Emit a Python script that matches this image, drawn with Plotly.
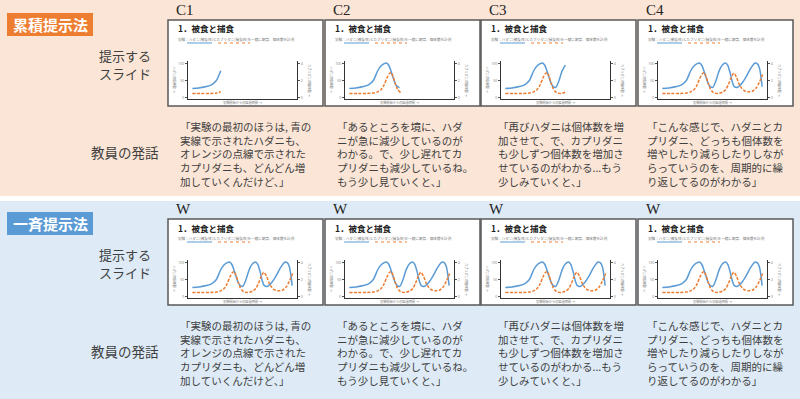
import plotly.graph_objects as go

# ---------------- data ----------------
# prey (ハダニ, left axis) – time in % of experiment, value in individuals
blue_x = [4, 10, 17, 22, 26, 30, 33, 36, 38, 40, 42, 44, 47, 50, 53, 56, 59, 62, 64, 66, 68, 70, 73, 77, 81, 85, 89, 91, 93, 94.5, 95.5]
blue_y = [26, 28, 32, 38, 50, 79, 93, 100, 102, 96, 80, 60, 35, 29, 48, 78, 96, 102, 95, 75, 48, 32, 30, 42, 62, 86, 102, 100, 88, 60, 32]
# predator (カブリダニ, right axis)
orange_x = [4, 12, 20, 26, 30, 33, 36, 38.5, 41, 42.5, 44, 46, 48, 51, 55, 59, 62, 64.5, 67, 69.5, 72, 74, 76, 79, 83, 87, 90, 93, 96]
orange_y = [0.44, 0.44, 0.45, 0.5, 0.65, 0.9, 1.5, 2.3, 2.85, 2.9, 2.5, 1.7, 1.0, 0.55, 0.45, 0.6, 0.9, 1.5, 2.3, 2.85, 2.4, 1.7, 1.2, 0.8, 0.65, 0.75, 1.1, 1.8, 2.7]

top_labels = ["C1", "C2", "C3", "C4"]
bottom_labels = ["W", "W", "W", "W"]
top_cutoffs = [30, 51, 60, 100]
bottom_cutoffs = [100, 100, 100, 100]
left_ticks = [0, 50, 100]
right_ticks = [0, 2, 4]

method_names = ["累積提示法", "一斉提示法"]
row_labels_slide = ["提示する", "スライド"]
row_label_speech = "教員の発話"
slide_title = "1．被食と捕食"
slide_sub = "実験：ハダニ(被食性)とカブリダニ(捕食性)を一緒に飼育、個体数を計測"
slide_xtitle = "実験開始からの経過時間 →"
slide_ytitle_l = "ハダニの個体数 →"
slide_ytitle_r = "カブリダニの個体数 →"

speech = [
    ["「実験の最初のほうは, 青の", "実線で示されたハダニも、", "オレンジの点線で示された", "カプリダニも、どんどん増", "加していくんだけど、」"],
    ["「あるところを境に、ハダ", "ニが急に減少しているのが", "わかる。で、少し遅れてカ", "プリダニも減少しているね。", "もう少し見ていくと、」"],
    ["「再びハダニは個体数を増", "加させて、で、カプリダニ", "も少しずつ個体数を増加さ", "せているのがわかる...もう", "少しみていくと、」"],
    ["「こんな感じで、ハダニとカ", "プリダニ、どっちも個体数を", "増やしたり減らしたりしなが", "らっていうのを、周期的に繰", "り返してるのがわかる」"],
]

# ---------------- layout helpers ----------------
W, H = 800, 399
def px(x): return x / W
def py(y): return 1 - y / H

JP = "Noto Sans CJK JP"
TXT = "#404040"
BLUE = "#5B9BD5"
ORANGE = "#ED7D31"

slide_left = [168, 325, 481, 638]
text_left = [179, 336, 497, 646]
SW, SH = 155, 86

fig = go.Figure()
shapes, annotations = [], []

def ann(x, y, text, size, color=TXT, family=JP, xanchor="left", yanchor="middle", angle=0, align="left"):
    annotations.append(dict(x=px(x), y=py(y), xref="paper", yref="paper", text=text,
                            showarrow=False, xanchor=xanchor, yanchor=yanchor, textangle=angle, align=align,
                            font=dict(size=size, color=color, family=family), borderpad=0))

# panels
shapes.append(dict(type="rect", xref="paper", yref="paper", x0=0, x1=1, y0=py(196), y1=py(0),
                   fillcolor="#FBE5D6", line_width=0, layer="below"))
shapes.append(dict(type="rect", xref="paper", yref="paper", x0=0, x1=1, y0=py(399), y1=py(201),
                   fillcolor="#DEEBF7", line_width=0, layer="below"))

rows = [
    dict(dy=0, name=method_names[0], color=ORANGE, labels=top_labels, cut=top_cutoffs),
    dict(dy=199, name=method_names[1], color=BLUE, labels=bottom_labels, cut=bottom_cutoffs),
]

layout_axes = {}
n = 0
for r in rows:
    dy = r["dy"]
    # method box
    shapes.append(dict(type="rect", xref="paper", yref="paper", x0=px(7), x1=px(93),
                       y0=py(36 + dy), y1=py(13 + dy), fillcolor=r["color"], line_width=0, layer="below"))
    ann(50, 24.5 + dy, "<b>" + r["name"] + "</b>", 15, color="white", xanchor="center")
    # row labels
    ann(125, 55.5 + dy, row_labels_slide[0], 13, xanchor="center")
    ann(125, 73.5 + dy, row_labels_slide[1], 13, xanchor="center")
    ann(125, 152 + dy, row_label_speech, 13.5, xanchor="center")

    for i in range(4):
        n += 1
        L = slide_left[i]
        T = 20 + dy
        # column label
        ann(L + 7, 10 + dy, r["labels"][i], 15, color="#222", family="Liberation Serif")
        # slide frame
        shapes.append(dict(type="rect", xref="paper", yref="paper", x0=px(L), x1=px(L + SW),
                           y0=py(T + SH), y1=py(T), fillcolor="white",
                           line=dict(color="#595959", width=1.5), layer="below"))
        ann(L + 9, T + 8.5, "<b>" + slide_title + "</b>", 8.5, color="#222")
        ann(L + 9, T + 19.5, slide_sub, 3.6, color="#777")
        shapes.append(dict(type="line", xref="paper", yref="paper", x0=px(L + 19), x1=px(L + 44),
                           y0=py(T + 23), y1=py(T + 23), line=dict(color=BLUE, width=1)))
        shapes.append(dict(type="line", xref="paper", yref="paper", x0=px(L + 50), x1=px(L + 82),
                           y0=py(T + 23), y1=py(T + 23), line=dict(color=ORANGE, width=1, dash="dot")))
        ann(L + 75, T + 82.5, slide_xtitle, 3.2, color="#777", xanchor="center")
        ann(L + 6.5, T + 60, slide_ytitle_l, 3.2, color="#777", xanchor="center", angle=90)
        ann(L + 142, T + 60, slide_ytitle_r, 3.2, color="#777", xanchor="center", angle=90)

        # speech text
        ann(text_left[i], 154 + dy, "<br>".join(speech[i]), 10.5)

        # axes
        xd = [px(L + 20), px(L + 129)]
        yd = [py(T + 79), py(T + 41)]
        xk = "xaxis" if n == 1 else f"xaxis{n}"
        yl = 2 * n - 1
        yr = 2 * n
        xref = "x" if n == 1 else f"x{n}"
        ylref = "y" if yl == 1 else f"y{yl}"
        yrref = f"y{yr}"
        layout_axes[xk] = dict(domain=xd, anchor=ylref, range=[0, 100], showgrid=False, zeroline=False,
                               showline=True, linecolor="#333", linewidth=1, showticklabels=False, ticks="")
        layout_axes["yaxis" if yl == 1 else f"yaxis{yl}"] = dict(
            domain=yd, anchor=xref, range=[-5, 108], showgrid=False, zeroline=False,
            showline=True, linecolor="#333", linewidth=1, tickvals=left_ticks, ticks="outside",
            ticklen=2, tickwidth=0.5, tickcolor="#555", tickfont=dict(size=3.5, color="#777"))
        layout_axes[f"yaxis{yr}"] = dict(
            overlaying=ylref, anchor=xref, side="right", range=[-0.2, 4.3], showgrid=False, zeroline=False,
            showline=True, linecolor="#333", linewidth=1, tickvals=right_ticks, ticks="outside",
            ticklen=2, tickwidth=0.5, tickcolor="#555", tickfont=dict(size=3.5, color="#777"))

        c = r["cut"][i]
        bx = [x for x in blue_x if x <= c]
        by = [y for x, y in zip(blue_x, blue_y) if x <= c]
        ox = [x for x in orange_x if x <= c]
        oy = [y for x, y in zip(orange_x, orange_y) if x <= c]
        fig.add_trace(go.Scatter(x=bx, y=by, mode="lines", xaxis=xref, yaxis=ylref,
                                 line=dict(color=BLUE, width=1.5, shape="spline", smoothing=0.8),
                                 showlegend=False, hoverinfo="skip"))
        fig.add_trace(go.Scatter(x=ox, y=oy, mode="lines", xaxis=xref, yaxis=yrref,
                                 line=dict(color=ORANGE, width=1.5, shape="spline", smoothing=0.8, dash="3px,1.5px"),
                                 showlegend=False, hoverinfo="skip"))

fig.update_layout(width=W, height=H, margin=dict(l=0, r=0, t=0, b=0),
                  paper_bgcolor="white", plot_bgcolor="rgba(0,0,0,0)",
                  shapes=shapes, annotations=annotations, showlegend=False, **layout_axes)
fig.write_html("out.html")
